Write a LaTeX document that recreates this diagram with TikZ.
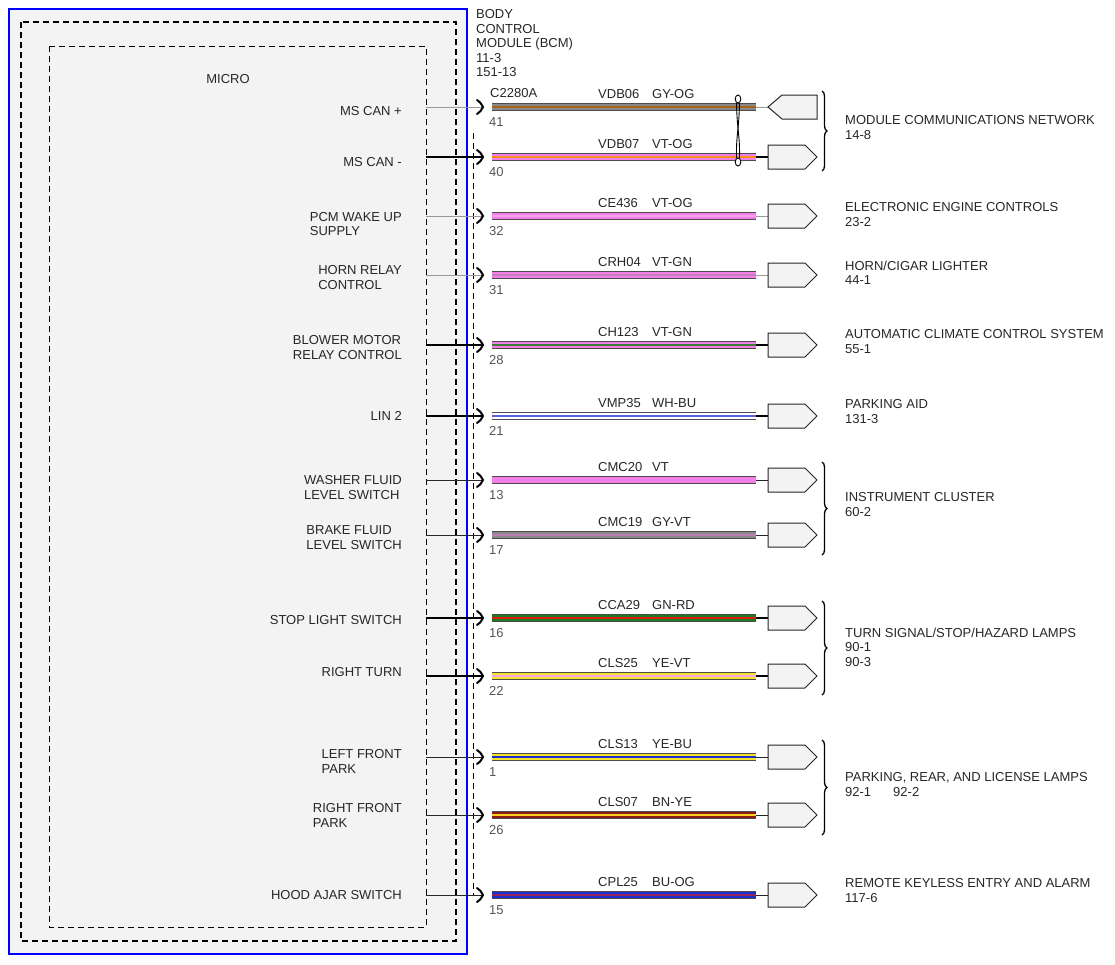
\documentclass[tikz,border=0pt]{standalone}
\usepackage{fontspec}
\setmainfont{Liberation Sans}
\usetikzlibrary{decorations.pathreplacing}

\definecolor{bcmfill}{HTML}{F3F3F3}
\definecolor{txt}{HTML}{262626}
\definecolor{pinno}{HTML}{555555}
\definecolor{wGY}{HTML}{8A8A8A}
\definecolor{wOG}{HTML}{F0901E}
\definecolor{wVT}{HTML}{F27EE6}
\definecolor{wGN}{HTML}{1E7A1E}
\definecolor{wRD}{HTML}{E01A10}
\definecolor{wYE}{HTML}{F5E22A}
\definecolor{wBU}{HTML}{1C2FD0}
\definecolor{wBN}{HTML}{8B1A10}

\begin{document}
\begin{tikzpicture}
  [x=1pt,y=-1pt,
   every node/.style={inner sep=0pt,text=txt,font=\fontsize{13}{14.5}\selectfont},
   module/.style={draw=blue,line width=1.4pt,fill=bcmfill},
   outerdash/.style={line width=1.6pt,dash pattern=on 6pt off 4pt},
   innerdash/.style={line width=0.8pt,dash pattern=on 6pt off 4pt},
   thinlead/.style={draw=gray!80,line width=0.8pt},
   midlead/.style={draw=black!85,line width=1pt},
   boldlead/.style={draw=black,line width=1.6pt},
   pinmark/.style={line width=2pt,line cap=round},
   cable/.style 2 args={draw=#1,line width=5.4pt,
     preaction={draw=black!70,line width=7.6pt},
     postaction={draw=#2,line width=1.8pt}},
   plugbox/.style={draw=black!85,line width=1pt,fill=bcmfill},
   grp/.style={decorate,decoration={brace,amplitude=5pt},line width=1.3pt},
   side/.style={anchor=north east,align=left},
   dest/.style={anchor=north west,align=left},
   tag/.style={anchor=west}]
  \useasboundingbox (0,0) rectangle (1115,964);

  % module outline and the dashed boundaries
  \draw[module] (9,9) rectangle (467,954);
  \draw[outerdash] (21,22) rectangle (456,941);
  \draw[innerdash] (49,46) rectangle (426,927);
  \draw[innerdash,draw=black] (473.5,133) -- (473.5,895);

  \node (micro) at (228,79) {MICRO};
  \node[dest] (bcm) at (476,9.4) {BODY\\CONTROL\\MODULE (BCM)\\11-3\\151-13};
  \node[tag] (conn) at (490,93) {C2280A};

  % inputs inside the module
  \node[side] (canp) at (402,106.4) {MS CAN +};
  \node[side] (canm) at (402,157.4) {MS CAN -};
  \node[side] (wake) at (402,211.9) {PCM WAKE UP\\SUPPLY};
  \node[side] (hornctl) at (402,265.4) {HORN RELAY\\CONTROL};
  \node[side] (blower) at (402,335.4) {BLOWER MOTOR\\RELAY CONTROL};
  \node[side] (lin) at (402,411.4) {LIN 2};
  \node[side] (washer) at (402,475.4) {WASHER FLUID\\LEVEL SWITCH};
  \node[side] (brake) at (402,525.4) {BRAKE FLUID\\LEVEL SWITCH};
  \node[side] (stop) at (402,615.4) {STOP LIGHT SWITCH};
  \node[side] (rturn) at (402,667.4) {RIGHT TURN};
  \node[side] (lfpark) at (402,749.4) {LEFT FRONT\\PARK};
  \node[side] (rfpark) at (402,803.4) {RIGHT FRONT\\PARK};
  \node[side] (hood) at (402,890.4) {HOOD AJAR SWITCH};

  % circuits
  \foreach \n/\y/\pin/\cir/\col/\base/\stripe/\lead in {
      1/107/41/VDB06/GY-OG/wGY/wOG!70!black/thinlead,
      2/157/40/VDB07/VT-OG/wVT/wOG/boldlead,
      3/216/32/CE436/VT-OG/wVT/wVT!70/thinlead,
      4/275/31/CRH04/VT-GN/wVT/wVT!60!gray/thinlead,
      5/345/28/CH123/VT-GN/wVT/wGN!70!gray/boldlead,
      6/416/21/VMP35/WH-BU/white/wBU!75/boldlead,
      7/480/13/CMC20/VT/wVT/wVT/midlead,
      8/535/17/CMC19/GY-VT/wGY/wVT!50!gray/midlead,
      9/618/16/CCA29/GN-RD/wGN/wRD/boldlead,
      10/676/22/CLS25/YE-VT/wYE/wVT!70/boldlead,
      11/757/1/CLS13/YE-BU/wYE/wBU/midlead,
      12/815/26/CLS07/BN-YE/wBN/wYE!80!orange/midlead,
      13/895/15/CPL25/BU-OG/wBU/wRD!60!wBU/midlead}
  {
    \coordinate (s\n) at (426,\y);
    \coordinate (j\n) at (483,\y);
    \coordinate (wa\n) at (492,\y);
    \coordinate (wb\n) at (756,\y);
    \coordinate (q\n) at (768,\y);
    \draw[\lead] (s\n) -- (j\n);
    \draw[pinmark] (j\n) ++(-6,-7) .. controls +(3,1) and +(-2,-3) .. ++(6,7)
      .. controls +(-2,3) and +(3,-1) .. ++(-6,7);
    \draw[cable={\base}{\stripe}] (wa\n) -- (wb\n);
    \draw[\lead] (wb\n) -- (q\n);
    \node[tag] (cir\n) at (598,\y-13) {\cir};
    \node[tag] (col\n) at (652,\y-13) {\col};
    \node[tag,text=pinno] (pin\n) at (489,\y+15) {\pin};
  }

  % plugs
  \draw[plugbox] (q1) -- ++(14,-12) -- ++(35,0) -- ++(0,24) -- ++(-35,0) -- cycle;
  \foreach \n in {2,...,13}
    \draw[plugbox] (q\n) -- ++(0,-12) -- ++(37,0) -- ++(12,12) -- ++(-12,12) -- ++(-37,0) -- cycle;

  % twisted pair
  \draw[line width=0.9pt] (736.5,103) .. controls (737,130) and (740,135) .. (739.5,158);
  \draw[line width=0.9pt] (739.5,103) .. controls (739,130) and (736,135) .. (736.5,158);
  \draw[line width=0.9pt,fill=white] (738,99) ellipse (2.8 and 4);
  \draw[line width=0.9pt,fill=white] (738,162) ellipse (2.8 and 4);

  % groups
  \draw[grp] (822,91) -- (822,171);
  \draw[grp] (822,462) -- (822,555);
  \draw[grp] (822,601) -- (822,695);
  \draw[grp] (822,740) -- (822,835);

  % destinations
  \node[dest] (mcn) at (845,115.4) {MODULE COMMUNICATIONS NETWORK\\14-8};
  \node[dest] (eec) at (845,202.4) {ELECTRONIC ENGINE CONTROLS\\23-2};
  \node[dest] (horn) at (845,260.4) {HORN/CIGAR LIGHTER\\44-1};
  \node[dest] (accs) at (845,329.4) {AUTOMATIC CLIMATE CONTROL SYSTEM\\55-1};
  \node[dest] (paid) at (845,399.4) {PARKING AID\\131-3};
  \node[dest] (ipc) at (845,492.4) {INSTRUMENT CLUSTER\\60-2};
  \node[dest] (lamps) at (845,627.4) {TURN SIGNAL/STOP/HAZARD LAMPS\\90-1\\90-3};
  \node[dest] (plamps) at (845,772.4) {PARKING, REAR, AND LICENSE LAMPS\\92-1\hspace{22pt}92-2};
  \node[dest] (rke) at (845,878.4) {REMOTE KEYLESS ENTRY AND ALARM\\117-6};
\end{tikzpicture}
\end{document}
